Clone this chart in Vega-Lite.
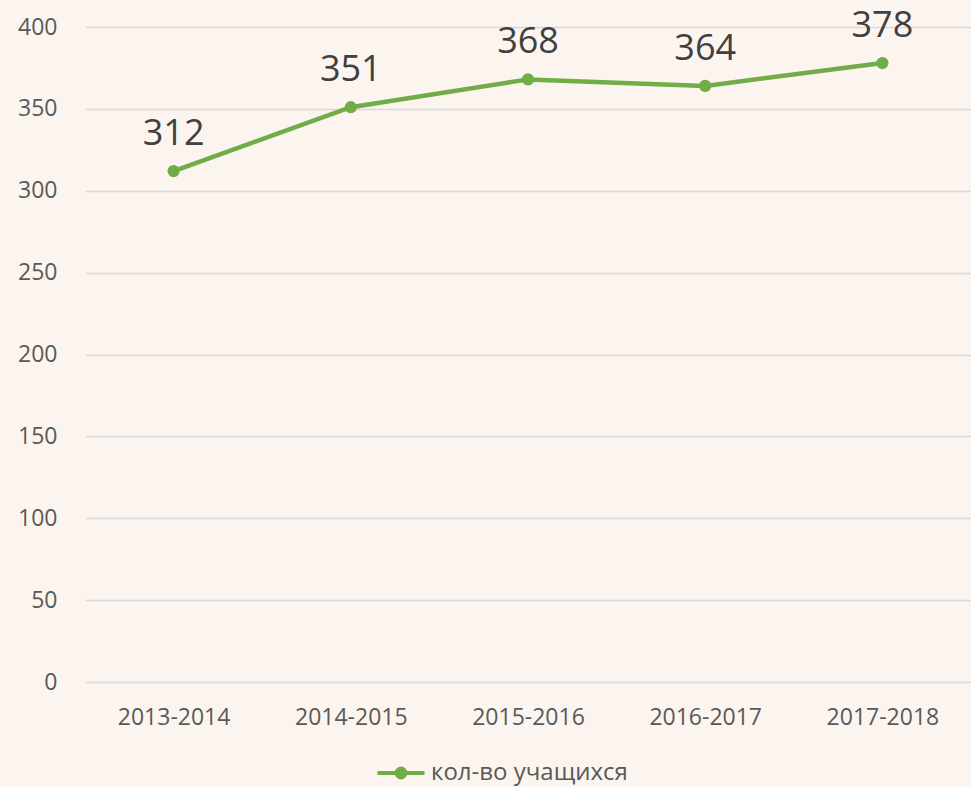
{
  "$schema": "https://vega.github.io/schema/vega-lite/v6.json",
  "autosize": {"type": "none"},
  "width": 886,
  "height": 655,
  "padding": {"left": 85, "top": 27, "right": 0, "bottom": 105},
  "background": "#FCF5EF",
  "config": {
    "view": {"stroke": null},
    "font": "Open Sans",
    "axis": {"labelFont": "Open Sans", "labelColor": "#595959", "labelFontSize": 23, "gridColor": "#D9D9D9", "gridWidth": 1.5, "domain": false, "ticks": false}
  },
  "data": {
    "values": [
      {"year": "2013-2014", "value": 312, "series": "кол-во учащихся"},
      {"year": "2014-2015", "value": 351, "series": "кол-во учащихся"},
      {"year": "2015-2016", "value": 368, "series": "кол-во учащихся"},
      {"year": "2016-2017", "value": 364, "series": "кол-во учащихся"},
      {"year": "2017-2018", "value": 378, "series": "кол-во учащихся"}
    ]
  },
  "encoding": {
    "x": {"field": "year", "type": "nominal", "sort": null, "axis": {"title": null, "labelAngle": 0, "labelPadding": 24, "grid": false}},
    "y": {"field": "value", "type": "quantitative", "scale": {"domain": [0, 400], "nice": false}, "axis": {"title": null, "values": [0, 50, 100, 150, 200, 250, 300, 350, 400], "labelPadding": 28}}
  },
  "layer": [
    {
      "mark": {"type": "line", "strokeWidth": 4.5, "point": {"filled": true, "size": 150, "color": "#70AD47"}},
      "encoding": {
        "color": {"field": "series", "type": "nominal", "scale": {"range": ["#70AD47"]},
          "legend": {"title": null, "orient": "none", "legendX": 298, "legendY": 728, "labelFontSize": 24, "labelColor": "#595959", "labelFont": "Open Sans", "labelLimit": 0,
            "symbolType": "M-1.5,0H1.5M0.28,0A0.28,0.28 0 1,1 -0.28,0A0.28,0.28 0 1,1 0.28,0Z", "symbolSize": 985, "symbolStrokeWidth": 4, "symbolFillColor": "#70AD47", "symbolStrokeColor": "#70AD47", "labelOffset": 12}}
      }
    },
    {
      "mark": {"type": "text", "dy": -37, "fontSize": 36, "color": "#404040", "font": "Open Sans"},
      "encoding": {"text": {"field": "value", "type": "quantitative"}}
    }
  ]
}
